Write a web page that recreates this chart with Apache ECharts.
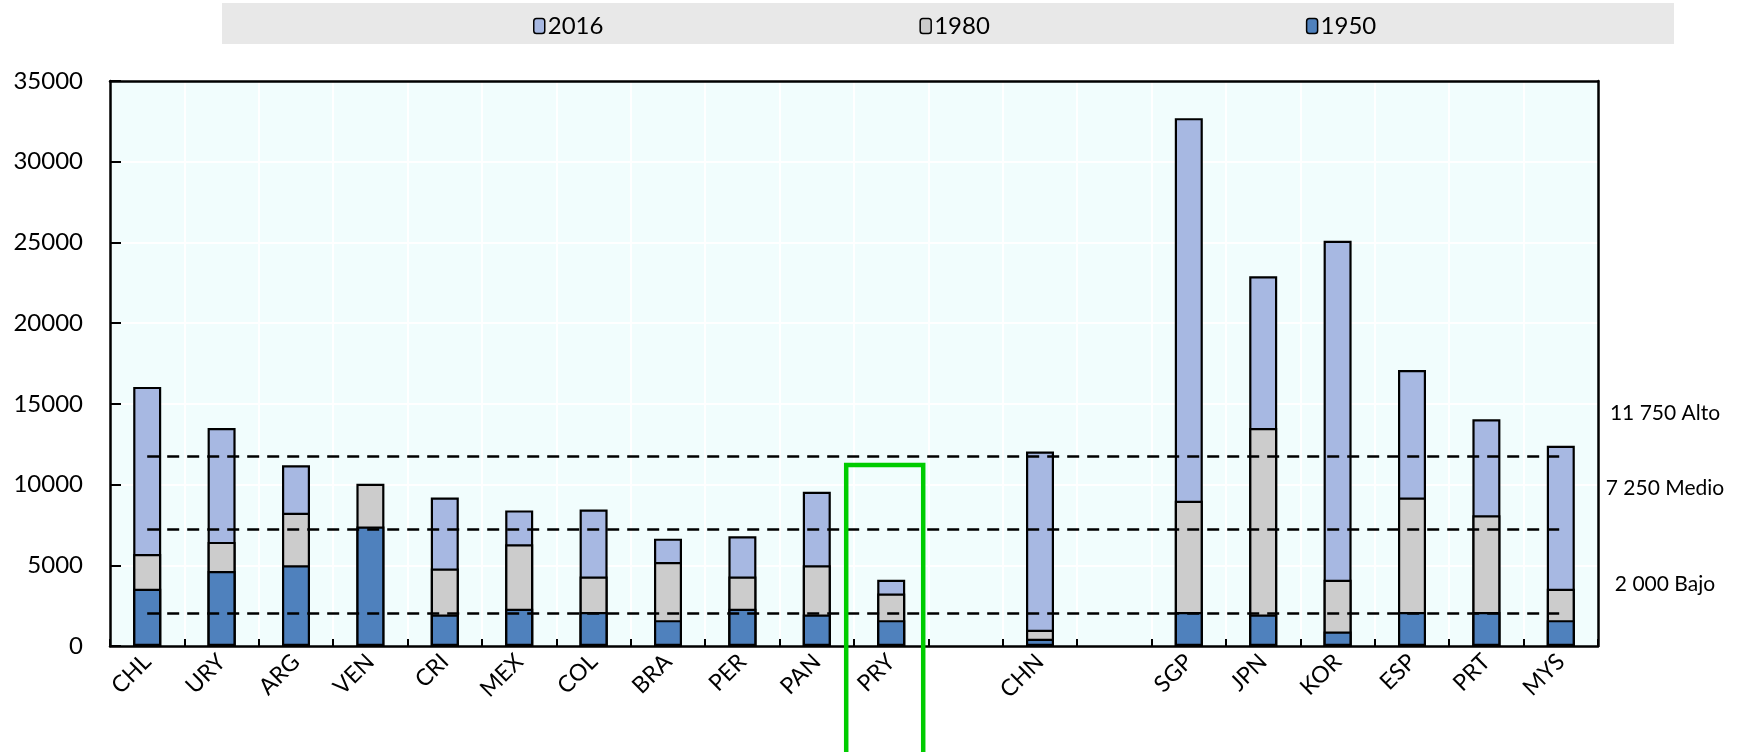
<!DOCTYPE html>
<html>
<head>
<meta charset="utf-8">
<script src="https://cdn.jsdelivr.net/npm/echarts@6/dist/echarts.min.js"></script>
<style>
  html, body { margin: 0; padding: 0; background: #fff; }
  #chart { width: 1738px; height: 752px; }
</style>
</head>
<body>
<div id="chart"></div>
<script>
// categories (blank entries are the gaps between groups)
var categories = ['CHL', 'URY', 'ARG', 'VEN', 'CRI', 'MEX', 'COL', 'BRA', 'PER', 'PAN', 'PRY', '', 'CHN', ' ', 'SGP', 'JPN', 'KOR', 'ESP', 'PRT', 'MYS'];
var v2016 = [16050, 13500, 11200, null, 9200, 8400, 8450, 6650, 6800, 9550, 4100, null, 12050, null, 32700, 22900, 25100, 17100, 14050, 12400];
var v1980 = [5700, 6450, 8250, 10050, 4800, 6300, 4300, 5200, 4300, 5000, 3250, null, 1000, null, 9000, 13500, 4100, 9200, 8100, 3550];
var v1950 = [3550, 4650, 5000, 7400, 1950, 2300, 2100, 1600, 2300, 1950, 1600, null, 450, null, 2100, 1950, 900, 2100, 2100, 1600];
var thresholds = [11750, 7250, 2000];
var thresholdLabels = ['11 750 Alto', '7 250 Medio', '2 000 Bajo'];
var yTicks = { min: 0, max: 35000, interval: 5000 };

var chart = echarts.init(document.getElementById('chart'));
var font = 'Lato, "Open Sans", sans-serif';

var barStyle = function (color) {
    return { color: color, borderColor: '#000', borderWidth: 2.2 };
};

var lines = thresholds.map(function (t) {
    return [{ coord: [categories[0], t] }, { coord: [categories[categories.length - 1], t] }];
});

var option = {
    animation: false,
    textStyle: { fontFamily: font },
    legend: {
        data: ['2016', '1980', '1950'],
        left: 528,
        top: 9,
        itemGap: 316,
        itemWidth: 11,
        itemHeight: 15,
        itemStyle: { borderColor: '#000', borderWidth: 1.5 },
        textStyle: { fontSize: 24, color: '#000', fontFamily: font, padding: [0, 0, 0, -2] }
    },
    grid: {
        left: 110,
        right: 140,
        top: 81,
        bottom: 106,
        show: true,
        backgroundColor: '#F1FDFD',
        borderColor: '#000',
        borderWidth: 0
    },
    xAxis: [
        {
            type: 'category',
            data: categories,
            axisLine: { lineStyle: { color: '#000', width: 2.5 } },
            axisTick: { show: true, inside: true, length: 7, lineStyle: { color: '#000', width: 2 } },
            axisLabel: { rotate: 45, margin: 12, fontSize: 23, color: '#000', fontFamily: font, interval: 0 },
            splitLine: { show: true, showMinLine: false, showMaxLine: false, lineStyle: { color: '#fff', width: 2 } }
        },
        {
            type: 'category',
            data: categories,
            position: 'top',
            axisLine: { show: true, onZero: false, lineStyle: { color: '#000', width: 2.5 } },
            axisTick: { show: false },
            axisLabel: { show: false }
        }
    ],
    yAxis: [
        {
            type: 'value',
            min: yTicks.min,
            max: yTicks.max,
            interval: yTicks.interval,
            axisLine: { show: true, lineStyle: { color: '#000', width: 2.5 } },
            axisTick: { show: true, inside: true, length: 11, lineStyle: { color: '#000', width: 2 } },
            axisLabel: { margin: 27, fontSize: 24, color: '#000', fontFamily: font, formatter: function (v) { return String(v); } },
            splitLine: { show: true, showMinLine: false, showMaxLine: false, lineStyle: { color: '#fff', width: 2 } }
        },
        {
            type: 'value',
            min: yTicks.min,
            max: yTicks.max,
            interval: yTicks.interval,
            position: 'right',
            axisLine: { show: true, onZero: false, lineStyle: { color: '#000', width: 2.5 } },
            axisTick: { show: false },
            axisLabel: { show: false },
            splitLine: { show: false }
        }
    ],
    series: [
        {
            name: '2016', type: 'bar', data: v2016, barWidth: 28, barGap: '-100%',
            itemStyle: barStyle('#A7B8E2')
        },
        {
            name: '1980', type: 'bar', data: v1980, barWidth: 28, barGap: '-100%',
            itemStyle: barStyle('#CCCCCC')
        },
        {
            name: '1950', type: 'bar', data: v1950, barWidth: 28, barGap: '-100%',
            itemStyle: barStyle('#4F81BD'),
            markLine: {
                silent: true,
                symbol: 'none',
                label: { show: false },
                lineStyle: { color: '#000', width: 2.5, type: [12, 8] },
                data: lines
            }
        }
    ],
    graphic: [
        {
            type: 'rect', z: -10, silent: true,
            shape: { x: 222, y: 3, width: 1452, height: 41 },
            style: { fill: '#E8E8E8' }
        }
    ]
};
chart.setOption(option);

// threshold captions in the right margin and the PRY highlight box
var labelY = [413, 488, 584];
var extra = thresholdLabels.map(function (txt, i) {
    return {
        type: 'text', silent: true,
        x: 1665, y: labelY[i],
        style: { text: txt, font: '21px ' + font, fill: '#000', textAlign: 'center', textVerticalAlign: 'middle' }
    };
});
var pryX = chart.convertToPixel({ xAxisIndex: 0 }, 'PRY');
var boxTop = chart.convertToPixel({ yAxisIndex: 0 }, 11220);
extra.push({
    type: 'rect', silent: true, z: 100,
    shape: { x: pryX - 45, y: boxTop, width: 77, height: 320 },
    style: { fill: 'none', stroke: '#00CC00', lineWidth: 4.5 }
});
chart.setOption({ graphic: option.graphic.concat(extra) });

window.addEventListener('resize', function () {
    chart.resize();
});
</script>
</body>
</html>
